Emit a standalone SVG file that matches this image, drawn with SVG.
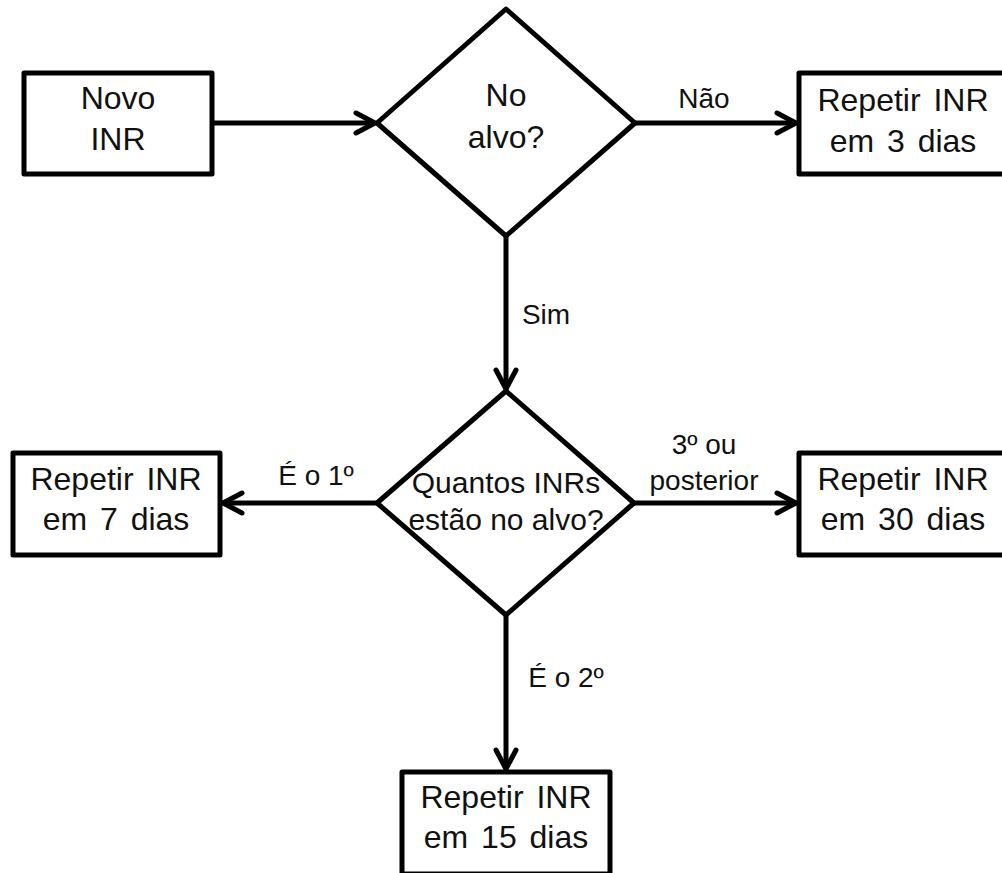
<svg xmlns="http://www.w3.org/2000/svg" width="1002" height="873" viewBox="0 0 1002 873">
<defs>
<style>
.node{fill:#fff;stroke:#000;stroke-width:5;stroke-linejoin:round}
.conn{fill:none;stroke:#000;stroke-width:5}
.t{font-family:"Liberation Sans",Arial,sans-serif;font-size:32px;fill:#111;text-anchor:middle;word-spacing:4px}
.d{font-family:"Liberation Sans",Arial,sans-serif;font-size:30px;fill:#111;text-anchor:middle}
.d1{font-family:"Liberation Sans",Arial,sans-serif;font-size:32px;fill:#111;text-anchor:middle}
.l{font-family:"Liberation Sans",Arial,sans-serif;font-size:28px;fill:#111;text-anchor:middle}
</style>
<marker id="arr" markerUnits="userSpaceOnUse" viewBox="-24 -14 28 28" markerWidth="28" markerHeight="28" refX="0" refY="0" orient="auto">
<path d="M-19,-10 L0,0 L-19,10" fill="none" stroke="#000" stroke-width="5" stroke-linecap="round" stroke-linejoin="miter"/>
</marker>
</defs>
<rect width="1002" height="873" fill="#fff"/>
<g id="connectors">
<line class="conn" x1="212" y1="123" x2="375" y2="123" marker-end="url(#arr)"/>
<line class="conn" x1="635" y1="123" x2="796" y2="123" marker-end="url(#arr)"/>
<line class="conn" x1="506" y1="236" x2="506" y2="389" marker-end="url(#arr)"/>
<line class="conn" x1="377" y1="503" x2="223" y2="503" marker-end="url(#arr)"/>
<line class="conn" x1="634" y1="503" x2="796" y2="503" marker-end="url(#arr)"/>
<line class="conn" x1="506" y1="615" x2="506" y2="769" marker-end="url(#arr)"/>
<text class="l" x="704" y="108">Não</text>
<text class="l" x="546" y="324">Sim</text>
<text class="l" x="316" y="485">É o 1º</text>
<text class="l" x="704" y="454">3º ou</text>
<text class="l" x="704" y="490">posterior</text>
<text class="l" x="566" y="687">É o 2º</text>
</g>
<g id="novo-inr">
<rect class="node" x="24" y="73" width="188" height="101"/>
<text class="t" x="118" y="109">Novo</text>
<text class="t" x="118" y="150">INR</text>
</g>
<g id="no-alvo">
<polygon class="node" points="506,9 635,123 506,236 377,123"/>
<text class="d1" x="506" y="106">No</text>
<text class="d1" x="506" y="148">alvo?</text>
</g>
<g id="repetir-3">
<rect class="node" x="799" y="73" width="207" height="101"/>
<text class="t" x="903" y="111">Repetir INR</text>
<text class="t" x="903" y="152">em 3 dias</text>
</g>
<g id="quantos">
<polygon class="node" points="506,391 634,503 506,615 377,503"/>
<text class="d" x="506" y="493">Quantos INRs</text>
<text class="d" x="506" y="530">estão no alvo?</text>
</g>
<g id="repetir-7">
<rect class="node" x="13" y="453" width="207" height="102"/>
<text class="t" x="116" y="490">Repetir INR</text>
<text class="t" x="116" y="530">em 7 dias</text>
</g>
<g id="repetir-30">
<rect class="node" x="799" y="453" width="207" height="102"/>
<text class="t" x="903" y="490">Repetir INR</text>
<text class="t" x="903" y="530">em 30 dias</text>
</g>
<g id="repetir-15">
<rect class="node" x="402" y="772" width="208" height="102"/>
<text class="t" x="506" y="808">Repetir INR</text>
<text class="t" x="506" y="848">em 15 dias</text>
</g>
</svg>
